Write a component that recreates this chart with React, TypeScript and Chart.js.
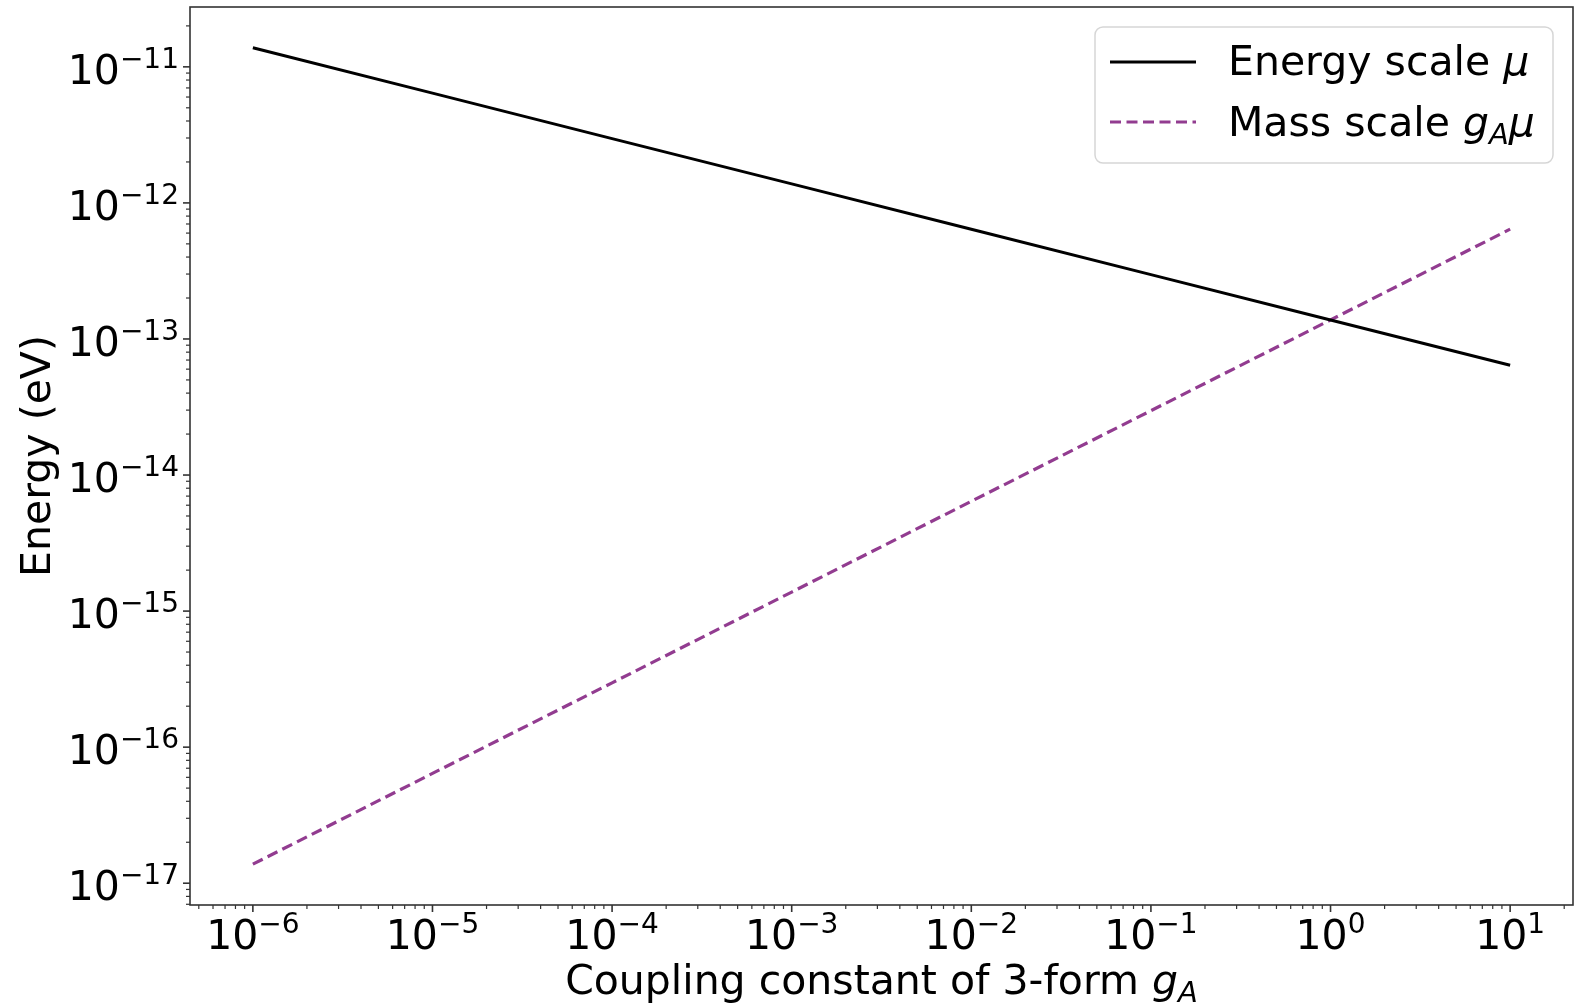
import React, { useEffect, useRef } from "react";
import { Chart, registerables } from "chart.js";

Chart.register(...registerables);

// Coupling constant g_A (x), one point per decade
const couplings = [1e-6, 1e-5, 1e-4, 1e-3, 1e-2, 1e-1, 1e0, 1e1];
// Energy scale mu (eV)
const energyScale = [1.38e-11, 6.41e-12, 2.97e-12, 1.38e-12, 6.41e-13, 2.97e-13, 1.38e-13, 6.41e-14];
// Mass scale g_A * mu (eV)
const massScale = [1.38e-17, 6.41e-17, 2.97e-16, 1.38e-15, 6.41e-15, 2.97e-14, 1.38e-13, 6.41e-13];

const xTickExponents = [-6, -5, -4, -3, -2, -1, 0, 1];
const yTickExponents = [-17, -16, -15, -14, -13, -12, -11];

const FONT = "'DejaVu Sans', Verdana, sans-serif";
const TICK_FONT = 41;
const SUP_FONT = 28;
const LABEL_FONT = 41;

function expLabel(e: number) {
  return e < 0 ? "\u2212" + String(-e) : String(e);
}

function logRange(vals: number[], margin = 0.05) {
  const logs = vals.map((v) => Math.log10(v));
  const lo = Math.min(...logs);
  const hi = Math.max(...logs);
  const pad = (hi - lo) * margin;
  return { min: Math.pow(10, lo - pad), max: Math.pow(10, hi + pad) };
}

const overlay = {
  id: "mplOverlay",
  afterDraw(chart: any) {
    const ctx = chart.ctx as CanvasRenderingContext2D;
    const area = chart.chartArea;
    const xs = chart.scales.x;
    const ys = chart.scales.y;
    ctx.save();

    // frame
    ctx.strokeStyle = "#333";
    ctx.lineWidth = 1.6;
    ctx.strokeRect(area.left, area.top, area.right - area.left, area.bottom - area.top);

    // ticks
    const drawXTick = (v: number, len: number, w: number) => {
      const px = xs.getPixelForValue(v);
      if (px < area.left - 0.5 || px > area.right + 0.5) return;
      ctx.lineWidth = w;
      ctx.beginPath();
      ctx.moveTo(px, area.bottom);
      ctx.lineTo(px, area.bottom + len);
      ctx.stroke();
    };
    const drawYTick = (v: number, len: number, w: number) => {
      const py = ys.getPixelForValue(v);
      if (py < area.top - 0.5 || py > area.bottom + 0.5) return;
      ctx.lineWidth = w;
      ctx.beginPath();
      ctx.moveTo(area.left, py);
      ctx.lineTo(area.left - len, py);
      ctx.stroke();
    };
    for (let e = -8; e <= 2; e++) {
      for (let m = 2; m <= 9; m++) drawXTick(m * Math.pow(10, e), 4, 1.2);
      drawXTick(Math.pow(10, e), 7, 1.6);
    }
    for (let e = -19; e <= -10; e++) {
      for (let m = 2; m <= 9; m++) drawYTick(m * Math.pow(10, e), 4, 1.2);
      drawYTick(Math.pow(10, e), 7, 1.6);
    }

    ctx.fillStyle = "#000";
    ctx.textBaseline = "alphabetic";
    ctx.textAlign = "left";
    const baseFont = `${TICK_FONT}px ${FONT}`;
    const supFont = `${SUP_FONT}px ${FONT}`;
    const measure = (e: number) => {
      ctx.font = baseFont;
      const wb = ctx.measureText("10").width;
      ctx.font = supFont;
      const ws = ctx.measureText(expLabel(e)).width;
      return { wb, ws };
    };
    // x tick labels
    xTickExponents.forEach((e) => {
      const cx = xs.getPixelForValue(Math.pow(10, e));
      const { wb, ws } = measure(e);
      const x0 = cx - (wb + ws) / 2;
      const base = area.bottom + 44;
      ctx.font = baseFont;
      ctx.fillText("10", x0, base);
      ctx.font = supFont;
      ctx.fillText(expLabel(e), x0 + wb, base - 16);
    });
    // y tick labels
    yTickExponents.forEach((e) => {
      const cy = ys.getPixelForValue(Math.pow(10, e));
      const { wb, ws } = measure(e);
      const right = area.left - 11;
      const x0 = right - (wb + ws);
      ctx.font = baseFont;
      ctx.fillText("10", x0, cy + 17);
      ctx.font = supFont;
      ctx.fillText(expLabel(e), x0 + wb, cy + 1);
    });

    // x axis label
    const normal = `${LABEL_FONT}px ${FONT}`;
    const italic = `italic ${LABEL_FONT}px ${FONT}`;
    const subItalic = `italic ${Math.round(LABEL_FONT * 0.7)}px ${FONT}`;
    const runs = (parts: { t: string; f: string; dy: number }[], x: number, y: number, align: "left" | "center") => {
      let total = 0;
      parts.forEach((p) => {
        ctx.font = p.f;
        total += ctx.measureText(p.t).width;
      });
      let cx = align === "center" ? x - total / 2 : x;
      parts.forEach((p) => {
        ctx.font = p.f;
        ctx.fillText(p.t, cx, y + p.dy);
        cx += ctx.measureText(p.t).width;
      });
    };
    runs(
      [
        { t: "Coupling constant of 3-form ", f: normal, dy: 0 },
        { t: "g", f: italic, dy: 0 },
        { t: "A", f: subItalic, dy: 8 },
      ],
      (area.left + area.right) / 2,
      area.bottom + 89,
      "center"
    );

    // y axis label
    ctx.save();
    ctx.translate(50, (area.top + area.bottom) / 2);
    ctx.rotate(-Math.PI / 2);
    ctx.font = normal;
    ctx.textAlign = "center";
    ctx.fillText("Energy (eV)", 0, 0);
    ctx.restore();

    // legend
    const lx = 1095, ly = 27, lw = 458, lh = 136, r = 8;
    ctx.beginPath();
    ctx.moveTo(lx + r, ly);
    ctx.arcTo(lx + lw, ly, lx + lw, ly + lh, r);
    ctx.arcTo(lx + lw, ly + lh, lx, ly + lh, r);
    ctx.arcTo(lx, ly + lh, lx, ly, r);
    ctx.arcTo(lx, ly, lx + lw, ly, r);
    ctx.closePath();
    ctx.fillStyle = "rgba(255,255,255,0.8)";
    ctx.fill();
    ctx.strokeStyle = "#d6d6d6";
    ctx.lineWidth = 1.5;
    ctx.stroke();

    const dsets = chart.data.datasets;
    const rows = [62, 122];
    dsets.forEach((ds: any, i: number) => {
      const y = rows[i];
      ctx.save();
      ctx.strokeStyle = ds.borderColor;
      ctx.lineWidth = ds.borderWidth;
      ctx.setLineDash(ds.borderDash || []);
      ctx.beginPath();
      ctx.moveTo(1110, y);
      ctx.lineTo(1196, y);
      ctx.stroke();
      ctx.restore();
    });
    ctx.fillStyle = "#000";
    ctx.textAlign = "left";
    runs(
      [
        { t: "Energy scale ", f: normal, dy: 0 },
        { t: "\u03bc", f: italic, dy: 0 },
      ],
      1228,
      75,
      "left"
    );
    runs(
      [
        { t: "Mass scale ", f: normal, dy: 0 },
        { t: "g", f: italic, dy: 0 },
        { t: "A", f: subItalic, dy: 8 },
        { t: "\u03bc", f: italic, dy: 0 },
      ],
      1228,
      136,
      "left"
    );

    ctx.restore();
  },
};

export default function App() {
  const ref = useRef<HTMLCanvasElement | null>(null);
  useEffect(() => {
    document.body.style.margin = "0";
    const canvas = ref.current!;
    const xr = logRange(couplings);
    const yr = logRange([...energyScale, ...massScale]);
    const chart = new Chart(canvas, {
      type: "line",
      data: {
        datasets: [
          {
            label: "Energy scale \u03bc",
            data: couplings.map((x, i) => ({ x, y: energyScale[i] })),
            borderColor: "#000000",
            borderWidth: 3,
            pointRadius: 0,
            fill: false,
            tension: 0,
          },
          {
            label: "Mass scale g_A\u03bc",
            data: couplings.map((x, i) => ({ x, y: massScale[i] })),
            borderColor: "#923c90",
            borderWidth: 3.2,
            borderDash: [11, 5.5],
            pointRadius: 0,
            fill: false,
            tension: 0,
          },
        ],
      },
      options: {
        responsive: false,
        animation: false,
        layout: { padding: { left: 190, top: 7, right: 14, bottom: 98 } },
        plugins: { legend: { display: false }, tooltip: { enabled: false } },
        scales: {
          x: { type: "logarithmic", min: xr.min, max: xr.max, display: false },
          y: { type: "logarithmic", min: yr.min, max: yr.max, display: false },
        },
      },
      plugins: [overlay],
    });
    return () => chart.destroy();
  }, []);
  return (
    <div style={{ position: "absolute", left: 0, top: 0, width: 1587, height: 1003, background: "#fff" }}>
      <canvas ref={ref} width={1587} height={1003} style={{ width: 1587, height: 1003, display: "block" }} />
    </div>
  );
}
